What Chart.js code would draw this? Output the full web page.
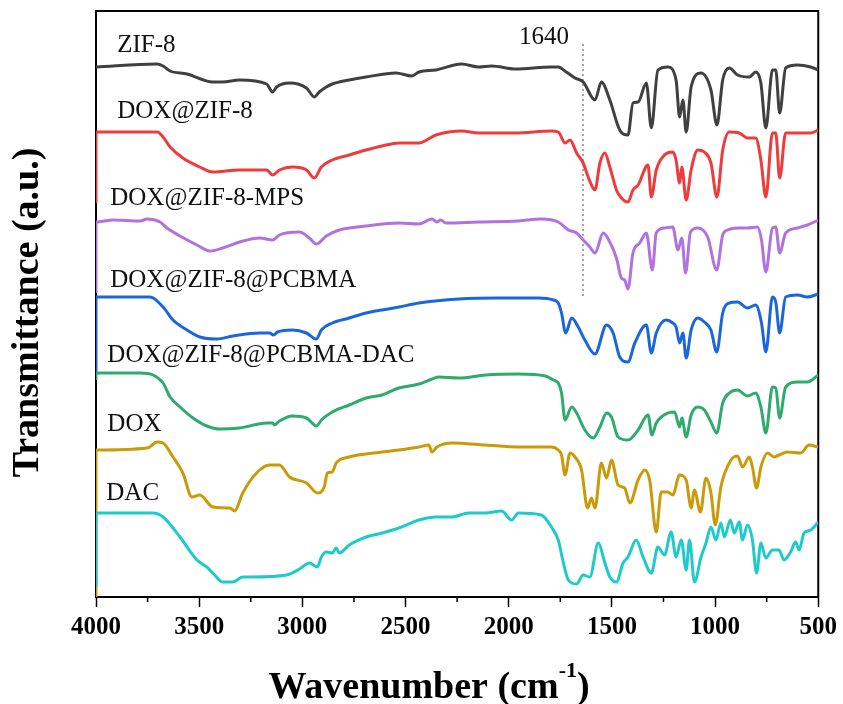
<!DOCTYPE html>
<html><head><meta charset="utf-8">
<script src="https://cdn.jsdelivr.net/npm/chart.js@4.4.1/dist/chart.umd.min.js"></script>
<style>html,body{margin:0;padding:0;background:#fff}</style>
</head><body>
<canvas id="c" width="843" height="704"></canvas>
<script>
// ---------- DATA (wavenumber in cm-1, transmittance in offset a.u.) ----------
const seriesNames = ['ZIF-8','DOX@ZIF-8','DOX@ZIF-8-MPS','DOX@ZIF-8@PCBMA','DOX@ZIF-8@PCBMA-DAC','DOX','DAC'];

const zif8Wn = [4000,3704,3675,3641,3559,3434,3386,3304,3173,3144,3125,3062,2980,2942,2918,2884,2855,2773,2691,2546,2469,2435,2353,2228,2146,2083,1967,1793,1760,1721,1679,1639,1582,1551,1510,1462,1422,1398,1373,1333,1309,1277,1229,1189,1172,1156,1140,1116,1068,1020,991,963,931,891,834,803,778,754,722,706,687,658,601,537,500];
const zif8T  = [53.0,53.3,53.1,52.6,52.3,51.5,51.5,51.7,51.3,50.5,51.0,51.4,50.9,50.0,50.5,51.0,51.3,51.7,52.0,52.4,52.1,52.5,52.7,53.3,53.0,53.1,52.8,53.0,53.0,52.5,51.9,51.5,49.7,51.5,49.7,46.7,46.2,49.4,49.5,51.4,46.9,52.7,53.0,51.7,48.0,49.7,46.5,51.0,52.4,50.7,47.2,51.7,52.9,52.2,52.0,52.5,51.4,46.9,52.7,52.7,48.4,52.9,53.2,53.0,52.7];

const doxZifWn = [4000,4000,3704,3675,3641,3579,3497,3434,3304,3173,3144,3111,3048,2980,2942,2908,2855,2773,2691,2614,2532,2435,2353,2228,2146,1967,1793,1760,1727,1703,1671,1639,1615,1582,1558,1534,1510,1478,1454,1422,1398,1373,1325,1309,1285,1245,1205,1189,1172,1161,1140,1116,1084,1052,1020,991,963,931,883,843,803,778,754,722,706,687,658,601,537,500];
const doxZifT  = [39.4,46.5,46.5,46.0,45.0,43.9,43.0,42.5,42.7,42.7,42.2,42.7,43.0,42.7,41.9,43.0,43.7,44.2,44.7,45.1,45.4,45.4,46.2,46.6,46.4,46.4,46.6,46.5,45.4,45.7,44.4,43.4,42.0,40.7,43.4,44.4,43.0,40.7,39.9,39.5,40.7,41.2,43.2,40.0,42.7,44.2,44.5,43.7,41.4,43.0,39.7,42.7,44.7,44.5,43.4,40.0,44.7,46.5,46.4,45.9,45.9,43.7,40.0,46.4,46.4,41.9,46.4,46.4,46.4,46.7];

const mpsWn = [4000,4000,3917,3786,3752,3690,3656,3593,3511,3448,3386,3304,3207,3144,3111,3014,2966,2932,2884,2821,2691,2532,2435,2372,2348,2329,2305,2146,1953,1842,1760,1711,1671,1639,1607,1582,1542,1510,1478,1454,1438,1422,1398,1365,1333,1304,1285,1245,1205,1180,1161,1143,1119,1084,1036,992,963,939,891,843,794,775,754,722,706,687,658,601,553,500];
const mpsT  = [30.4,37.5,37.7,37.6,37.8,37.5,36.9,36.1,35.2,34.6,34.9,35.5,35.9,35.7,36.2,36.5,35.9,35.3,36.1,36.7,37.1,37.4,37.3,37.8,37.5,37.7,37.4,37.5,37.6,37.8,37.5,36.7,36.4,35.7,35.0,34.4,36.4,35.5,33.9,31.9,31.7,30.8,34.4,35.4,36.4,32.7,36.4,36.9,37.0,34.7,35.9,32.4,36.5,36.9,36.0,32.7,36.2,36.7,36.9,36.9,37.0,35.7,32.5,36.9,37.0,34.4,36.4,36.9,37.2,37.7];

const pcbmaWn = [4000,4000,3738,3675,3627,3559,3497,3415,3337,3207,3159,3140,3120,3048,2980,2932,2908,2855,2773,2691,2614,2532,2435,2242,2049,1856,1784,1760,1744,1724,1695,1663,1631,1582,1526,1494,1462,1422,1389,1333,1309,1285,1237,1205,1189,1172,1156,1140,1116,1084,1052,1020,992,963,931,891,843,803,775,754,722,706,687,658,601,553,500];
const pcbmaT  = [22.4,30.0,30.0,29.0,27.7,26.7,26.0,25.8,26.1,26.4,26.4,26.2,26.5,26.7,26.4,25.8,26.7,27.4,27.9,28.4,28.7,29.0,29.4,29.8,29.9,29.9,29.7,29.4,28.4,26.4,27.9,27.0,25.7,24.3,27.2,26.4,24.0,23.5,25.4,27.2,24.4,26.4,27.7,27.4,27.0,25.4,26.4,23.9,26.7,27.9,27.5,26.7,24.5,28.4,29.4,29.5,28.9,29.2,27.4,24.5,30.0,29.5,26.4,30.0,30.2,30.0,30.3];

const pcbmaDacWn = [4000,4000,3786,3723,3675,3641,3593,3530,3463,3400,3304,3173,3144,3135,3111,3048,2980,2932,2908,2855,2773,2691,2614,2532,2435,2372,2339,2242,2112,1953,1822,1784,1760,1744,1727,1695,1671,1631,1591,1558,1526,1502,1470,1422,1373,1325,1306,1285,1229,1196,1172,1161,1140,1116,1084,1052,1020,992,963,931,891,843,803,778,754,722,706,687,658,601,553,500];
const pcbmaDacT  = [21.7,22.4,22.4,22.2,21.4,20.0,19.0,17.9,17.1,16.8,16.9,17.4,17.4,17.2,17.6,18.1,17.9,17.1,17.7,18.5,19.2,19.9,20.2,20.9,21.3,21.8,22.0,21.9,22.2,22.3,22.1,21.7,21.4,20.4,17.7,19.0,18.4,16.7,15.9,17.0,18.4,18.0,16.0,15.7,16.7,18.2,16.2,17.4,18.4,18.5,17.0,17.9,16.0,18.2,19.0,18.7,17.5,16.4,19.4,20.4,20.7,20.1,20.4,19.0,16.4,21.0,20.9,17.9,21.0,21.5,21.5,22.2];

const doxWn = [4000,4000,3752,3704,3675,3627,3579,3535,3497,3434,3352,3328,3289,3222,3159,3111,3062,2980,2927,2894,2879,2855,2836,2773,2691,2532,2435,2387,2372,2348,2276,2112,1953,1793,1760,1744,1727,1703,1679,1647,1618,1599,1582,1551,1526,1502,1470,1438,1413,1373,1341,1317,1285,1261,1229,1205,1172,1140,1116,1100,1071,1044,1020,999,972,923,891,867,834,819,799,778,746,714,690,650,585,545,500];
const doxT  = [0.0,14.7,14.9,15.5,15.4,14.0,12.4,10.0,10.2,9.0,8.9,8.6,10.4,12.4,13.2,13.2,12.0,11.4,10.4,11.0,12.4,12.5,13.4,14.0,14.3,14.7,15.0,15.2,14.5,15.0,15.4,15.2,15.0,15.0,14.7,14.2,12.2,14.4,14.0,12.7,8.9,9.9,8.9,13.4,11.9,13.7,11.2,10.9,9.4,11.7,12.7,11.7,6.5,10.5,10.5,10.2,12.2,11.7,8.9,10.7,8.5,11.9,10.4,7.2,11.0,13.7,14.1,13.0,14.0,13.0,10.9,13.0,14.4,14.0,14.2,14.5,14.4,15.2,15.0];

const dacWn = [4000,4000,3723,3675,3593,3511,3463,3434,3386,3337,3289,3241,3077,3014,2966,2927,2908,2884,2855,2836,2821,2773,2691,2614,2532,2435,2353,2276,2194,2112,2035,1986,1953,1842,1793,1760,1735,1711,1671,1639,1607,1566,1534,1510,1478,1446,1422,1382,1349,1309,1277,1245,1213,1189,1164,1140,1124,1100,1068,1044,1020,996,972,955,926,907,883,867,843,819,799,778,754,722,690,666,634,610,593,569,537,500];
const dacT  = [1.0,8.4,8.4,8.0,6.0,3.7,3.0,2.4,1.5,1.5,2.0,2.0,2.2,2.8,3.4,3.0,4.0,4.5,4.4,4.9,4.4,5.2,6.0,6.4,6.9,7.7,8.0,8.0,8.4,8.4,8.6,7.7,8.4,8.2,7.0,5.7,3.4,1.7,1.3,2.2,2.0,5.4,3.4,2.0,1.5,3.4,4.0,5.7,4.0,2.4,5.0,4.2,6.5,4.0,5.7,2.7,5.7,1.5,4.0,5.4,7.0,5.7,7.4,6.0,7.7,6.4,7.5,5.7,7.2,5.7,2.4,5.4,3.9,4.7,4.7,3.7,4.5,5.5,4.7,6.4,6.7,7.5];

const markerWn = [1640,1640];
const markerT  = [55.3,29.9];
const markerLabel = '1640';

const xTickValues = [4000,3500,3000,2500,2000,1500,1000,500];

// ---------- BUILD ----------
const wnSets = [zif8Wn, doxZifWn, mpsWn, pcbmaWn, pcbmaDacWn, doxWn, dacWn];
const tSets  = [zif8T, doxZifT, mpsT, pcbmaT, pcbmaDacT, doxT, dacT];
const colors = ['#404040','#EE3B3B','#B172DE','#1C66DC','#2EAB6D','#CB9A08','#1FCACA'];
const toPts = (w, t) => w.map((v, i) => ({x: v, y: t[i]}));

const datasets = seriesNames.map((name, i) => ({
  label: name,
  data: toPts(wnSets[i], tSets[i]),
  borderColor: colors[i],
  borderWidth: 3,
  pointRadius: 0,
  cubicInterpolationMode: 'monotone',
  fill: false,
  order: 10 - i
}));
datasets.push({
  label: 'marker',
  data: toPts(markerWn, markerT),
  borderColor: '#8a8a8a',
  borderWidth: 1.5,
  borderDash: [2, 3],
  pointRadius: 0,
  fill: false,
  order: 20
});

const serif = '"Liberation Serif", "Times New Roman", serif';

const labelAnchors = [
  {text: seriesNames[0], wn: 3897, t: 55.15},
  {text: seriesNames[1], wn: 3897, t: 48.6},
  {text: seriesNames[2], wn: 3931, t: 39.9},
  {text: seriesNames[3], wn: 3931, t: 31.7},
  {text: seriesNames[4], wn: 3945, t: 24.2},
  {text: seriesNames[5], wn: 3945, t: 17.3},
  {text: seriesNames[6], wn: 3950, t: 10.4}
];

const framePlugin = {
  id: 'frame',
  beforeDatasetsDraw(chart) {
    const a = chart.chartArea, ctx = chart.ctx, xs = chart.scales.x;
    ctx.save();
    ctx.strokeStyle = '#000';
    ctx.lineWidth = 2;
    ctx.strokeRect(a.left, a.top, a.right - a.left, a.bottom - a.top);
    // minor ticks
    ctx.lineWidth = 1.5;
    for (let v = 750; v < 4000; v += 500) {
      const px = xs.getPixelForValue(v);
      ctx.beginPath();
      ctx.moveTo(px, a.bottom);
      ctx.lineTo(px, a.bottom + 5);
      ctx.stroke();
    }
    ctx.restore();
  }
};

const textPlugin = {
  id: 'texts',
  afterDatasetsDraw(chart) {
    const ctx = chart.ctx, xs = chart.scales.x, ys = chart.scales.y, a = chart.chartArea;
    ctx.save();
    ctx.fillStyle = '#111';
    ctx.font = '25px ' + serif;
    ctx.textBaseline = 'middle';
    ctx.textAlign = 'left';
    labelAnchors.forEach(l => ctx.fillText(l.text, xs.getPixelForValue(l.wn), ys.getPixelForValue(l.t)));
    ctx.textAlign = 'center';
    ctx.fillText(markerLabel, xs.getPixelForValue(1829), ys.getPixelForValue(56.0));

    // x axis title with superscript
    ctx.fillStyle = '#000';
    ctx.textBaseline = 'alphabetic';
    ctx.textAlign = 'left';
    const mainFont = 'bold 38px ' + serif, supFont = 'bold 22px ' + serif;
    ctx.font = mainFont;
    const p1 = 'Wavenumber (cm', p3 = ')';
    const w1 = ctx.measureText(p1).width, w3 = ctx.measureText(p3).width;
    ctx.font = supFont;
    const p2 = '-1';
    const w2 = ctx.measureText(p2).width;
    const cx = a.left + 333;
    let x0 = cx - (w1 + w2 + w3) / 2;
    const by = 698;
    ctx.font = mainFont; ctx.fillText(p1, x0, by);
    ctx.font = supFont; ctx.fillText(p2, x0 + w1, by - 21);
    ctx.font = mainFont; ctx.fillText(p3, x0 + w1 + w2, by);

    // y axis title
    ctx.translate(38, 312.5);
    ctx.rotate(-Math.PI / 2);
    ctx.textAlign = 'center';
    ctx.font = 'bold 38px ' + serif;
    ctx.fillText('Transmittance (a.u.)', 0, 0);
    ctx.restore();
  }
};

new Chart(document.getElementById('c'), {
  type: 'line',
  data: {datasets},
  options: {
    responsive: false,
    devicePixelRatio: 1,
    animation: false,
    events: [],
    layout: {padding: {left: 96, top: 11, right: 22, bottom: 0}},
    plugins: {legend: {display: false}, tooltip: {enabled: false}},
    scales: {
      x: {
        type: 'linear',
        reverse: true,
        min: 500,
        max: 4000,
        afterFit(scale) { scale.height = 107; },
        border: {display: true, color: '#000', width: 2},
        grid: {
          display: true,
          drawOnChartArea: false,
          drawTicks: true,
          tickLength: 10,
          tickWidth: 1.5,
          tickColor: ctx => (xTickValues.includes(ctx.tick.value) ? '#000' : 'rgba(0,0,0,0)')
        },
        ticks: {
          stepSize: 250,
          autoSkip: false,
          maxRotation: 0,
          padding: 6,
          color: '#000',
          font: {family: serif, size: 25, weight: 'bold'},
          callback: v => (xTickValues.includes(v) ? String(v) : '')
        }
      },
      y: {
        display: false,
        min: 0,
        max: 58.6
      }
    }
  },
  plugins: [framePlugin, textPlugin]
});
</script>
</body></html>
